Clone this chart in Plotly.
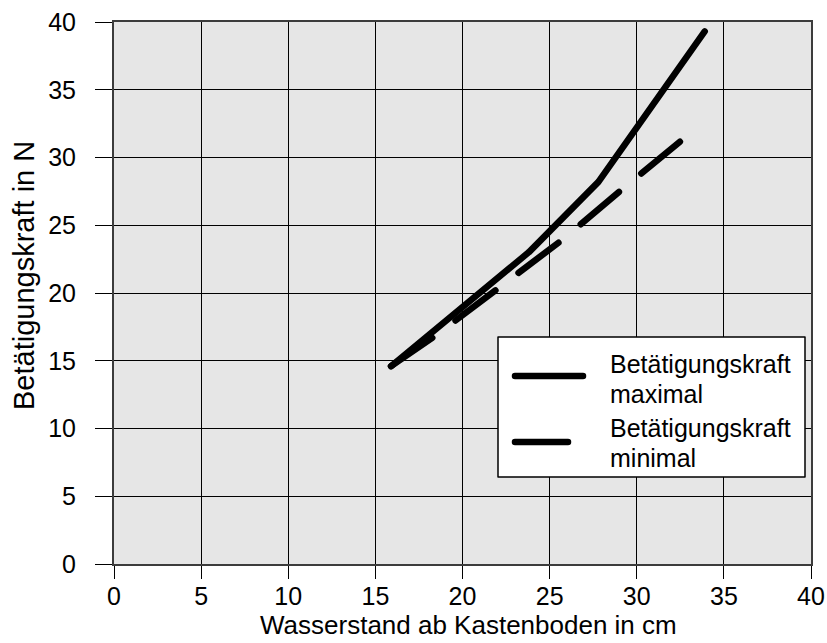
import plotly.graph_objects as go

# ---- data ----
water_max = [15.9, 23.8, 27.8, 33.9]
force_max = [14.6, 23.0, 28.2, 39.3]
water_min = [15.9, 18.5, 22.1, 25.7, 29.2, 32.7]
force_min = [14.6, 16.9, 20.4, 23.9, 27.7, 31.4]
tick_vals = [0, 5, 10, 15, 20, 25, 30, 35, 40]
x_title = "Wasserstand ab Kastenboden in cm"
y_title = "Betätigungskraft in N"
name_max = "Betätigungskraft<br>maximal"
name_min = "Betätigungskraft<br>minimal"

W, H = 827, 643
L, R, T, B = 114, 811, 22, 564  # plot area pixels

def px(xp):
    return (xp - L) / (R - L)

def py(yp):
    return (B - yp) / (B - T)

REG = "Liberation Sans, Arial, sans-serif"

fig = go.Figure()
fig.add_trace(go.Scatter(x=water_max, y=force_max, mode="lines",
                         line=dict(color="black", width=6.5),
                         name=name_max, showlegend=False))
fig.add_trace(go.Scatter(x=water_min, y=force_min, mode="lines",
                         line=dict(color="black", width=6.5, dash="50px,29px"),
                         name=name_min, showlegend=False))

shapes = [
    dict(type="rect", xref="paper", yref="paper", x0=px(498), x1=px(805),
         y0=py(477), y1=py(337), fillcolor="white",
         line=dict(color="black", width=1.5), layer="above"),
    dict(type="line", xref="paper", yref="paper", x0=px(515), x1=px(583),
         y0=py(376), y1=py(376), line=dict(color="black", width=6.5), layer="above"),
    dict(type="line", xref="paper", yref="paper", x0=px(515), x1=px(568),
         y0=py(442), y1=py(442), line=dict(color="black", width=6.5), layer="above"),
]

annotations = []
for txt, yp in [(name_max, 378), (name_min, 442)]:
    for i, part in enumerate(txt.split("<br>")):
        annotations.append(dict(
            text=part, xref="paper", yref="paper", x=px(608), y=py(yp - 14 + i * 30),
            xanchor="left", yanchor="middle", showarrow=False,
            font=dict(family=REG, size=25, color="black")))

# axis titles
annotations.append(dict(text=x_title, xref="paper", yref="paper", x=px(469), y=py(642),
                        xanchor="center", yanchor="bottom", showarrow=False,
                        font=dict(family=REG, size=26, color="black")))
annotations.append(dict(text=y_title, xref="paper", yref="paper", x=px(24), y=py(276),
                        xanchor="center", yanchor="middle", showarrow=False, textangle=-90,
                        font=dict(family=REG, size=29, color="black")))

axis_common = dict(
    range=[0, 40], tickvals=tick_vals, showgrid=True, gridcolor="black", gridwidth=1,
    showline=True, linecolor="#3c3c3c", linewidth=2, mirror=True,
    ticks="outside", tickcolor="black", tickwidth=1, zeroline=False,
    automargin=False, ticklabeloverflow="allow",
    tickfont=dict(family=REG, size=25, color="black"),
)

fig.update_layout(
    width=W, height=H, autosize=False,
    margin=dict(l=L, r=W - R, t=T, b=H - B),
    paper_bgcolor="white", plot_bgcolor="#e6e6e6",
    shapes=shapes, annotations=annotations,
    xaxis=dict(**axis_common, ticklen=13, ticklabelstandoff=-4),
    yaxis=dict(**axis_common, ticklen=17, ticklabelstandoff=14),
)

post = ("document.body.style.margin='0';"
        "document.querySelectorAll('path.js-line, .shapelayer path').forEach(function(p){"
        "p.style.strokeLinecap='round';p.style.strokeLinejoin='round';});")
fig.write_html("out.html", post_script=post, config={"displayModeBar": False})
